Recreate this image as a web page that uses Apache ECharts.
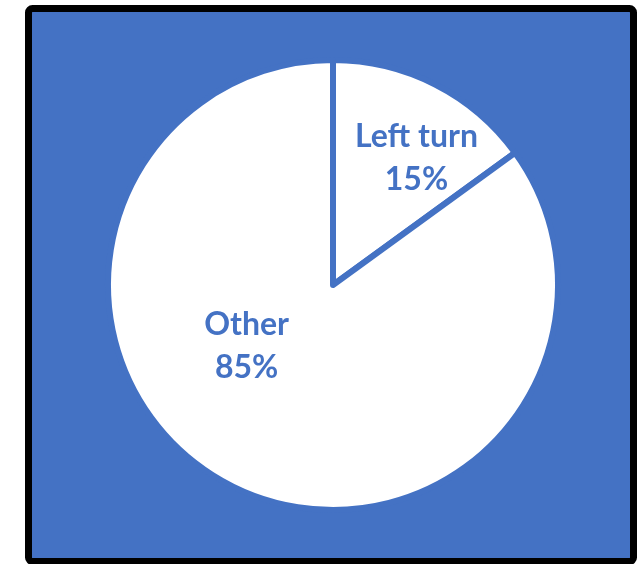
<!DOCTYPE html>
<html>
<head>
<meta charset="utf-8">
<script src="https://cdn.jsdelivr.net/npm/echarts@6/dist/echarts.min.js"></script>
<style>
html,body{margin:0;padding:0;background:#fff;}
#main{width:641px;height:564px;}
</style>
</head>
<body>
<div id="main"></div>
<script>
const categories = ['Left turn', 'Other'];
const values = [15, 85];
const labelOffsets = [[31, -24], [-34, -42]];

const chart = echarts.init(document.getElementById('main'), null, {renderer: 'canvas'});
const blue = '#4472C4';
chart.setOption({
  backgroundColor: '#ffffff',
  animation: false,
  graphic: [{
    type: 'rect',
    z: -10,
    silent: true,
    shape: {x: 28.5, y: 8.5, width: 605, height: 553, r: 4},
    style: {fill: blue, stroke: '#000', lineWidth: 7}
  }],
  series: [{
    type: 'pie',
    center: [333, 285],
    radius: 225,
    startAngle: 90,
    clockwise: true,
    label: {
      show: true,
      position: 'inside',
      color: blue,
      fontFamily: 'Lato, "Open Sans", sans-serif',
      fontWeight: 'bold',
      fontSize: 32,
      lineHeight: 43,
      formatter: p => p.name + '\n' + p.value + '%'
    },
    labelLine: {show: false},
    itemStyle: {color: '#ffffff', borderColor: blue, borderWidth: 6},
    emphasis: {disabled: true},
    data: categories.map((c, i) => ({
      name: c,
      value: values[i],
      label: {offset: labelOffsets[i]}
    }))
  }]
});
</script>
</body>
</html>
